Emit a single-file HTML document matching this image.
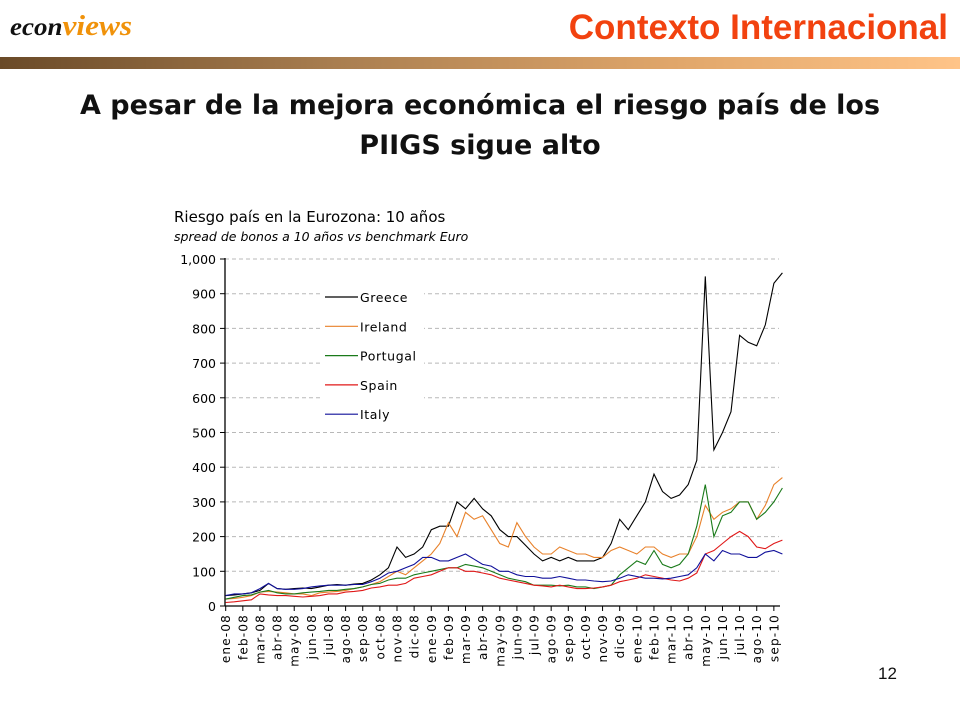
<!DOCTYPE html>
<html><head><meta charset="utf-8"><style>
body{margin:0;width:960px;height:720px;background:#fff;overflow:hidden;position:relative;font-family:"Liberation Sans",sans-serif}
.abs{position:absolute}
</style></head><body>
<div class="abs" style="left:10px;top:10px;font-family:'Liberation Serif',serif;font-style:italic;font-weight:bold;font-size:25px;color:#111;transform:scaleX(1.08);transform-origin:left">econ<span style="color:#f0920a;font-size:29px">views</span></div>
<div class="abs" style="right:12px;top:8px;font-weight:bold;font-size:35px;color:#f2420f">Contexto Internacional</div>
<div class="abs" style="left:0;top:57px;width:960px;height:12px;background:linear-gradient(90deg,#6a4a28,#a97e50 35%,#e0a66a 70%,#ffc488)"></div>
<div class="abs" style="left:0;top:86px;width:960px;text-align:center;font-family:'DejaVu Sans',sans-serif;font-weight:bold;font-size:27px;line-height:40px;color:#111">A pesar de la mejora económica el riesgo país de los<br>PIIGS sigue alto</div>
<div class="abs" style="left:878px;top:664px;font-size:17px;color:#111">12</div>
<svg class="abs" style="left:0;top:0" width="960" height="720">
<text x="174" y="222" font-family="DejaVu Sans,sans-serif" font-size="15" fill="#000">Riesgo país en la Eurozona: 10 años</text>
<text x="174" y="241" font-family="DejaVu Sans,sans-serif" font-size="12.5" font-style="italic" fill="#000">spread de bonos a 10 años vs benchmark Euro</text>
<g id="grid"></g><g id="series"></g><g id="axes"></g><g id="legend"></g>
</svg>
<script>
const months=["ene-08","feb-08","mar-08","abr-08","may-08","jun-08","jul-08","ago-08","sep-08","oct-08","nov-08","dic-08","ene-09","feb-09","mar-09","abr-09","may-09","jun-09","jul-09","ago-09","sep-09","oct-09","nov-09","dic-09","ene-10","feb-10","mar-10","abr-10","may-10","jun-10","jul-10","ago-10","sep-10"];
const yTicks=[0,100,200,300,400,500,600,700,800,900,1000];
const greece=[30,32,35,38,45,65,50,48,50,52,50,55,60,62,60,63,65,75,90,110,170,140,150,170,220,230,230,300,280,310,280,260,220,200,200,175,150,130,140,130,140,130,130,130,140,180,250,220,260,300,380,330,310,320,350,420,950,450,500,560,780,760,750,810,930,960];
const ireland=[20,22,25,30,40,42,40,38,35,35,30,38,40,42,45,50,55,62,70,85,100,90,110,130,150,180,240,200,270,250,260,220,180,170,240,200,170,150,150,170,160,150,150,140,140,160,170,160,150,170,170,150,140,150,150,200,290,250,270,280,300,300,250,290,350,370];
const portugal=[20,25,30,32,40,45,38,35,35,38,40,42,45,45,48,50,55,62,65,75,80,80,90,95,100,105,110,110,120,115,110,100,90,80,75,70,60,60,60,58,60,55,55,50,55,60,90,110,130,120,160,120,110,120,150,230,350,200,260,270,300,300,250,270,300,340];
const spain=[10,12,15,18,35,32,30,30,28,26,28,30,35,35,40,42,45,52,55,60,60,65,80,85,90,100,110,110,100,100,95,90,80,75,70,65,60,58,55,60,55,50,50,52,55,60,70,75,80,90,85,80,75,72,80,95,150,160,180,200,215,200,170,165,180,190];
const italy=[30,35,35,38,50,65,50,48,48,50,55,58,60,60,60,62,62,70,80,95,100,110,120,140,140,130,130,140,150,135,120,115,100,100,90,85,85,80,80,85,80,75,75,72,70,72,80,90,85,80,80,78,80,85,90,110,150,130,160,150,150,140,140,155,160,150];
const seriesNames=["Greece","Ireland","Portugal","Spain","Italy"];
const seriesColors=["#000000","#e8812a","#1a7a1a","#e01818","#10109a"];
const seriesData=[greece,ireland,portugal,spain,italy];
const NS="http://www.w3.org/2000/svg";
const X0=225.7,DX=17.13,Y0=606,YS=0.347;
const xs=t=>X0+t*DX, ys=v=>Y0-v*YS;
function mk(tag,attrs,parent){const e=document.createElementNS(NS,tag);for(const k in attrs)e.setAttribute(k,attrs[k]);parent.appendChild(e);return e;}
const grid=document.getElementById('grid'),axes=document.getElementById('axes'),ser=document.getElementById('series'),leg=document.getElementById('legend');
yTicks.forEach(v=>{
  if(v>0){const l=mk('line',{x1:225,x2:779,y1:ys(v),y2:ys(v),stroke:'#b8b8b8','stroke-dasharray':'4,3'},grid);
  
  }
  const t=mk('text',{x:216,y:ys(v)+5,'text-anchor':'end','font-family':'DejaVu Sans,sans-serif','font-size':'12.5',fill:'#000'},axes);
  t.textContent=v.toLocaleString('en-US');
  
  
  const tk=mk('line',{x1:220,x2:225,y1:ys(v),y2:ys(v),stroke:'#000'},axes);
  
  
});
seriesData.forEach((d,i)=>{
  const pts=d.map((v,j)=>xs(j*0.5).toFixed(1)+','+ys(v).toFixed(1)).join(' ');
  const p=mk('polyline',{points:pts,fill:'none',stroke:seriesColors[i],'stroke-width':'1.1'},ser);
  
  
});
const ya=mk('line',{x1:225,x2:225,y1:258,y2:606,stroke:'#000','stroke-width':'1.3'},axes);


const xa=mk('line',{x1:225,x2:780,y1:606,y2:606,stroke:'#000','stroke-width':'1.3'},axes);


months.forEach((m,i)=>{
  const x=xs(i);
  const tk=mk('line',{x1:x,x2:x,y1:606,y2:611,stroke:'#000'},axes);
  
  
  const t=mk('text',{x:0,y:0,'text-anchor':'end','font-family':'DejaVu Sans,sans-serif','font-size':'12',fill:'#000','letter-spacing':'1.2',transform:`translate(${x+4.5},614) rotate(-90)`},axes);
  t.textContent=m;
  
  
});
const lb=mk('rect',{x:321,y:284,width:103,height:143,fill:'#fff'},leg);


seriesNames.forEach((n,i)=>{
  const y=297+i*29.3;
  const g=mk('g',{},leg);
  
  
  mk('line',{x1:325,x2:358,y1:y,y2:y,stroke:seriesColors[i],'stroke-width':'1.2'},g);
  const t=mk('text',{x:360,y:y+5,'font-family':'DejaVu Sans,sans-serif','font-size':'12.5',fill:'#000','letter-spacing':'0.6'},g);
  t.textContent=n;
});
</script>
</body></html>
